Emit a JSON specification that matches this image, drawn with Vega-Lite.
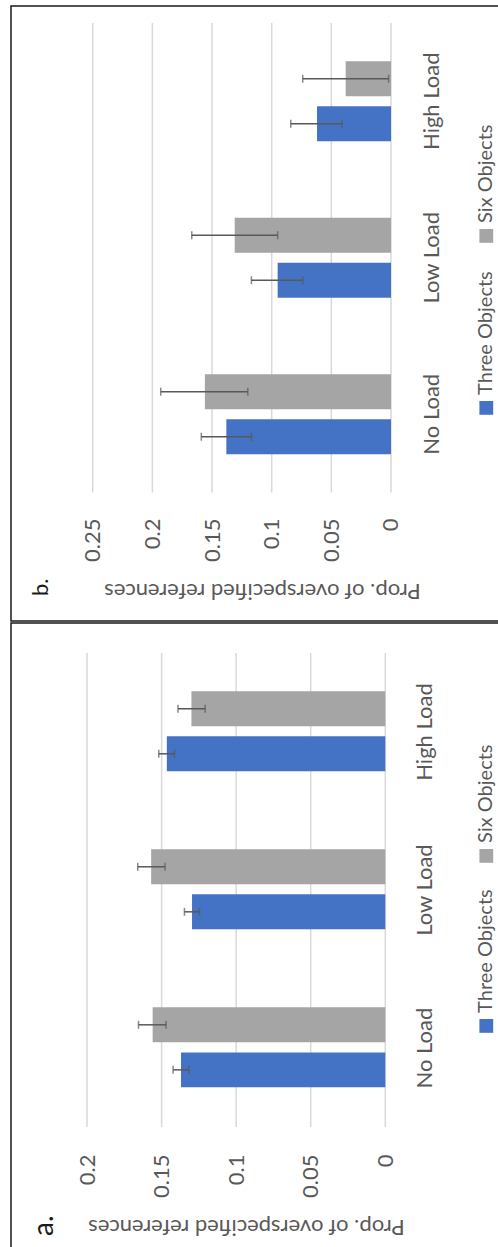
{
  "$schema": "https://vega.github.io/schema/vega-lite/v6.json",
  "background": "white",
  "padding": {"left": 10, "top": 5, "right": 0, "bottom": 0},
  "spacing": 0,
  "config": {
    "view": {"stroke": "#1a1a1a", "strokeWidth": 1.5},
    "font": "Lato"
  },
  "datasets": {
    "b": [
      {"load": "No Load", "series": "Three Objects", "value": 0.138, "lo": 0.117, "hi": 0.159},
      {"load": "No Load", "series": "Six Objects", "value": 0.156, "lo": 0.120, "hi": 0.193},
      {"load": "Low Load", "series": "Three Objects", "value": 0.095, "lo": 0.074, "hi": 0.117},
      {"load": "Low Load", "series": "Six Objects", "value": 0.131, "lo": 0.095, "hi": 0.167},
      {"load": "High Load", "series": "Three Objects", "value": 0.062, "lo": 0.041, "hi": 0.084},
      {"load": "High Load", "series": "Six Objects", "value": 0.038, "lo": 0.002, "hi": 0.074}
    ],
    "a": [
      {"load": "No Load", "series": "Three Objects", "value": 0.137, "lo": 0.1316, "hi": 0.1423},
      {"load": "No Load", "series": "Six Objects", "value": 0.156, "lo": 0.147, "hi": 0.1655},
      {"load": "Low Load", "series": "Three Objects", "value": 0.1296, "lo": 0.1246, "hi": 0.1347},
      {"load": "Low Load", "series": "Six Objects", "value": 0.157, "lo": 0.1477, "hi": 0.166},
      {"load": "High Load", "series": "Three Objects", "value": 0.1465, "lo": 0.1414, "hi": 0.1519},
      {"load": "High Load", "series": "Six Objects", "value": 0.130, "lo": 0.1208, "hi": 0.139}
    ],
    "ticksB": [{"v": 0}, {"v": 0.05}, {"v": 0.1}, {"v": 0.15}, {"v": 0.2}, {"v": 0.25}],
    "ticksA": [{"v": 0}, {"v": 0.05}, {"v": 0.1}, {"v": 0.15}, {"v": 0.2}],
    "legend": [{"series": "Six Objects"}, {"series": "Three Objects"}]
  },
  "vconcat": [
    {
      "width": 490,
      "height": 615,
      "title": {"text": "b.", "orient": "bottom", "anchor": "start", "frame": "group", "angle": 270, "align": "left", "baseline": "top", "offset": -25, "dy": 20, "fontSize": 22, "fontWeight": "normal", "color": "#1a1a1a", "font": "Lato"},
      "layer": [
        {
          "layer": [
            {
              "data": {"name": "ticksB"},
              "mark": {"type": "rule", "color": "#D9D9D9", "strokeWidth": 1.5},
              "encoding": {
                "x": {"field": "v", "type": "quantitative",
                  "scale": {"domain": [-0.0922, 0.3185], "reverse": true, "nice": false, "zero": false},
                  "axis": {"orient": "bottom", "offset": -129, "values": [0, 0.05, 0.1, 0.15, 0.2, 0.25], "format": "~g", "domain": false, "ticks": false, "grid": false, "labelAngle": 270, "labelAlign": "right", "labelBaseline": "middle", "labelPadding": 26, "labelFontSize": 22, "labelFont": "Lato", "labelColor": "#595959", "labelOverlap": false, "labelFlush": false, "title": "Prop. of overspecified references", "titleAngle": 180, "titleBaseline": "bottom", "titleAlign": "center", "titlePadding": 17, "titleFontSize": 22, "titleFontWeight": "normal", "titleFont": "Lato", "titleColor": "#595959", "titleX": 251}},
                "y": {"datum": "High Load", "type": "nominal", "bandPosition": 0,
                  "scale": {"type": "band", "domain": ["High Load", "Low Load", "No Load"], "paddingInner": 0, "paddingOuter": 0.465, "align": 0.117}},
                "y2": {"datum": "No Load", "bandPosition": 1}
              }
            },
            {
              "data": {"name": "b"},
              "mark": {"type": "bar"},
              "encoding": {
                "x": {"field": "value", "type": "quantitative"},
                "x2": {"datum": 0},
                "y": {"field": "load", "type": "nominal",
                  "axis": {"orient": "right", "offset": -110, "title": null, "domain": false, "ticks": false, "grid": false, "labelAngle": 270, "labelAlign": "center", "labelBaseline": "top", "labelPadding": 30, "labelFontSize": 22, "labelFont": "Lato", "labelColor": "#595959"}},
                "yOffset": {"field": "series", "type": "nominal", "scale": {"domain": ["Six Objects", "Three Objects"], "paddingInner": 0.225, "paddingOuter": 0.85}},
                "color": {"field": "series", "type": "nominal", "scale": {"domain": ["Six Objects", "Three Objects"], "range": ["#A5A5A5", "#4472C4"]}, "legend": null}
              }
            },
            {
              "data": {"name": "b"},
              "mark": {"type": "rule", "color": "#595959", "strokeWidth": 1.5},
              "encoding": {
                "x": {"field": "lo", "type": "quantitative"},
                "x2": {"field": "hi"},
                "y": {"field": "load", "type": "nominal"},
                "yOffset": {"field": "series", "type": "nominal"}
              }
            },
            {
              "data": {"name": "b"},
              "mark": {"type": "tick", "color": "#595959", "thickness": 1.5, "size": 8},
              "encoding": {
                "x": {"field": "lo", "type": "quantitative"},
                "y": {"field": "load", "type": "nominal"},
                "yOffset": {"field": "series", "type": "nominal"}
              }
            },
            {
              "data": {"name": "b"},
              "mark": {"type": "tick", "color": "#595959", "thickness": 1.5, "size": 8},
              "encoding": {
                "x": {"field": "hi", "type": "quantitative"},
                "y": {"field": "load", "type": "nominal"},
                "yOffset": {"field": "series", "type": "nominal"}
              }
            }
          ]
        },
        {
          "data": {"name": "legend"},
          "encoding": {
            "y": {"field": "series", "type": "nominal", "scale": {"type": "band", "domain": ["Six Objects", "Three Objects"], "paddingInner": 0, "paddingOuter": 0.788, "align": 0.531}, "axis": null},
            "x": {"datum": "legend", "type": "nominal", "scale": {"type": "point", "align": 0.97}, "axis": null}
          },
          "layer": [
            {"mark": {"type": "point", "shape": "square", "filled": true, "size": 190, "opacity": 1},
             "encoding": {"color": {"field": "series", "type": "nominal", "scale": {"domain": ["Six Objects", "Three Objects"], "range": ["#A5A5A5", "#4472C4"]}, "legend": null}}},
            {"mark": {"type": "text", "angle": 270, "align": "left", "baseline": "middle", "dx": 13, "fontSize": 20, "font": "Lato", "color": "#595959"},
             "encoding": {"text": {"field": "series"}}}
          ]
        }
      ],
      "resolve": {"scale": {"x": "independent", "y": "independent"}}
    },
    {
      "width": 490,
      "height": 640,
      "title": {"text": "a.", "orient": "bottom", "anchor": "start", "frame": "group", "angle": 270, "align": "left", "baseline": "top", "offset": -27, "dy": 20, "fontSize": 28, "fontWeight": "normal", "color": "#1a1a1a", "font": "Lato"},
      "layer": [
        {
          "layer": [
            {
              "data": {"name": "ticksA"},
              "mark": {"type": "rule", "color": "#D9D9D9", "strokeWidth": 1.5},
              "encoding": {
                "x": {"field": "v", "type": "quantitative",
                  "scale": {"domain": [-0.0776, 0.251], "reverse": true, "nice": false, "zero": false},
                  "axis": {"orient": "bottom", "offset": -136, "values": [0, 0.05, 0.1, 0.15, 0.2], "format": "~g", "domain": false, "ticks": false, "grid": false, "labelAngle": 270, "labelAlign": "right", "labelBaseline": "middle", "labelPadding": 27, "labelFontSize": 22, "labelFont": "Lato", "labelColor": "#595959", "labelOverlap": false, "labelFlush": false, "title": "Prop. of overspecified references", "titleAngle": 180, "titleBaseline": "bottom", "titleAlign": "center", "titlePadding": 17, "titleFontSize": 22, "titleFontWeight": "normal", "titleFont": "Lato", "titleColor": "#595959", "titleX": 235}},
                "y": {"datum": "High Load", "type": "nominal", "bandPosition": 0,
                  "scale": {"type": "band", "domain": ["High Load", "Low Load", "No Load"], "paddingInner": 0, "paddingOuter": 0.525, "align": 0.181}},
                "y2": {"datum": "No Load", "bandPosition": 1}
              }
            },
            {
              "data": {"name": "a"},
              "mark": {"type": "bar"},
              "encoding": {
                "x": {"field": "value", "type": "quantitative"},
                "x2": {"datum": 0},
                "y": {"field": "load", "type": "nominal",
                  "axis": {"orient": "right", "offset": -115.7, "title": null, "domain": false, "ticks": false, "grid": false, "labelAngle": 270, "labelAlign": "center", "labelBaseline": "top", "labelPadding": 29, "labelFontSize": 22, "labelFont": "Lato", "labelColor": "#595959"}},
                "yOffset": {"field": "series", "type": "nominal", "scale": {"domain": ["Six Objects", "Three Objects"], "paddingInner": 0.225, "paddingOuter": 0.85}},
                "color": {"field": "series", "type": "nominal", "scale": {"domain": ["Six Objects", "Three Objects"], "range": ["#A5A5A5", "#4472C4"]}, "legend": null}
              }
            },
            {
              "data": {"name": "a"},
              "mark": {"type": "rule", "color": "#595959", "strokeWidth": 1.5},
              "encoding": {
                "x": {"field": "lo", "type": "quantitative"},
                "x2": {"field": "hi"},
                "y": {"field": "load", "type": "nominal"},
                "yOffset": {"field": "series", "type": "nominal"}
              }
            },
            {
              "data": {"name": "a"},
              "mark": {"type": "tick", "color": "#595959", "thickness": 1.5, "size": 8},
              "encoding": {
                "x": {"field": "lo", "type": "quantitative"},
                "y": {"field": "load", "type": "nominal"},
                "yOffset": {"field": "series", "type": "nominal"}
              }
            },
            {
              "data": {"name": "a"},
              "mark": {"type": "tick", "color": "#595959", "thickness": 1.5, "size": 8},
              "encoding": {
                "x": {"field": "hi", "type": "quantitative"},
                "y": {"field": "load", "type": "nominal"},
                "yOffset": {"field": "series", "type": "nominal"}
              }
            }
          ]
        },
        {
          "data": {"name": "legend"},
          "encoding": {
            "y": {"field": "series", "type": "nominal", "scale": {"type": "band", "domain": ["Six Objects", "Three Objects"], "paddingInner": 0, "paddingOuter": 0.882, "align": 0.493}, "axis": null},
            "x": {"datum": "legend", "type": "nominal", "scale": {"type": "point", "align": 0.97}, "axis": null}
          },
          "layer": [
            {"mark": {"type": "point", "shape": "square", "filled": true, "size": 190, "opacity": 1},
             "encoding": {"color": {"field": "series", "type": "nominal", "scale": {"domain": ["Six Objects", "Three Objects"], "range": ["#A5A5A5", "#4472C4"]}, "legend": null}}},
            {"mark": {"type": "text", "angle": 270, "align": "left", "baseline": "middle", "dx": 13, "fontSize": 20, "font": "Lato", "color": "#595959"},
             "encoding": {"text": {"field": "series"}}}
          ]
        }
      ],
      "resolve": {"scale": {"x": "independent", "y": "independent"}}
    }
  ]
}
